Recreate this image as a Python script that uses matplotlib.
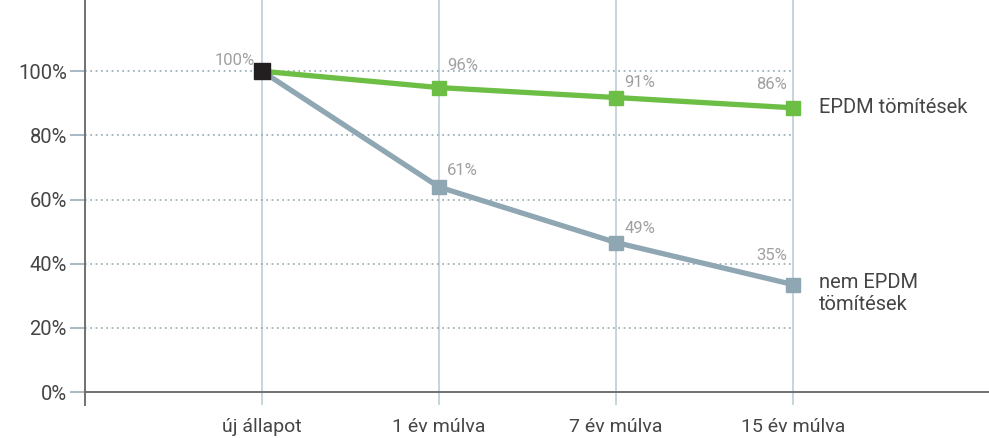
import matplotlib
matplotlib.use("Agg")
import matplotlib.pyplot as plt

categories = ["új állapot", "1 év múlva", "7 év múlva", "15 év múlva"]
epdm_values = [100.0, 94.9, 91.8, 88.6]
nonepdm_values = [100.0, 63.9, 46.6, 33.5]
epdm_labels = ["100%", "96%", "91%", "86%"]
nonepdm_labels = ["", "61%", "49%", "35%"]
y_ticks = [0, 20, 40, 60, 80, 100]
y_tick_labels = ["0%", "20%", "40%", "60%", "80%", "100%"]
series_names = ["EPDM tömítések", "nem EPDM\ntömítések"]

plt.rcParams['font.family'] = ['Roboto', 'DejaVu Sans']

GREEN = "#6cbf44"
GREYBLUE = "#8fa6b3"
GRID_V = "#b9c9d3"
AXIS = "#707070"
LABEL = "#a0a0a0"
TEXT = "#454545"

W, H = 989, 438
fig = plt.figure(figsize=(W / 100, H / 100), dpi=100)
ax = fig.add_axes([85 / W, (H - 405) / H, 1 - 85 / W, 405 / H])
ax.set_xlim(0, (W - 85) / 177)
ax.set_ylim(-4.05, 122.2)

xs = list(range(1, len(categories) + 1))

for x in xs:
    ax.axvline(x, color=GRID_V, lw=1.1, zorder=1)
for y in y_ticks[1:]:
    ax.plot([0, xs[-1]], [y, y], color=GREYBLUE, lw=1.2, ls=(0, (1, 2.2)), zorder=1)
ax.axhline(0, color=AXIS, lw=1.4, zorder=2)

for s in ["top", "right", "bottom"]:
    ax.spines[s].set_visible(False)
ax.spines["left"].set_color(AXIS)
ax.spines["left"].set_linewidth(1.4)

ax.plot(xs, nonepdm_values, color=GREYBLUE, lw=3.8, marker="s", ms=10,
        mec=GREYBLUE, mfc=GREYBLUE, zorder=3, solid_joinstyle="round")
ax.plot(xs, epdm_values, color=GREEN, lw=3.8, marker="s", ms=10,
        mec=GREEN, mfc=GREEN, zorder=4, solid_joinstyle="round")
ax.plot([xs[0]], [epdm_values[0]], marker="s", ms=11, color="#231f20", zorder=5, ls="none")

epdm_off = [(-5, 8, "right"), (6, 16, "left"), (6, 10.5, "left"), (-4, 17, "right")]
non_off = [None, (6, 12, "left"), (6, 10, "left"), (-4, 21, "right")]
for x, v, lab, o in zip(xs, epdm_values, epdm_labels, epdm_off):
    ax.annotate(lab, (x, v), xytext=(o[0], o[1]), textcoords="offset points",
                ha=o[2], va="center", color=LABEL, fontsize=12, zorder=6)
for x, v, lab, o in zip(xs, nonepdm_values, nonepdm_labels, non_off):
    if o is None:
        continue
    ax.annotate(lab, (x, v), xytext=(o[0], o[1]), textcoords="offset points",
                ha=o[2], va="center", color=LABEL, fontsize=12, zorder=6)

ax.annotate(series_names[0], (xs[-1], epdm_values[-1]), xytext=(19, 0),
            textcoords="offset points", ha="left", va="center",
            color=TEXT, fontsize=14.5)
ax.annotate(series_names[1], (xs[-1], nonepdm_values[-1]), xytext=(19, 8),
            textcoords="offset points", ha="left", va="top",
            color=TEXT, fontsize=14.5, linespacing=1.15)

ax.set_yticks(y_ticks)
ax.set_yticklabels(y_tick_labels, fontsize=14.5, color=TEXT)
ax.tick_params(axis="y", length=11, width=1.1, color=GREYBLUE, pad=2)
ax.set_xticks(xs)
ax.set_xticklabels(categories, fontsize=14, color=TEXT)
ax.tick_params(axis="x", length=0, pad=9)

fig.savefig("out.png", dpi=100)
